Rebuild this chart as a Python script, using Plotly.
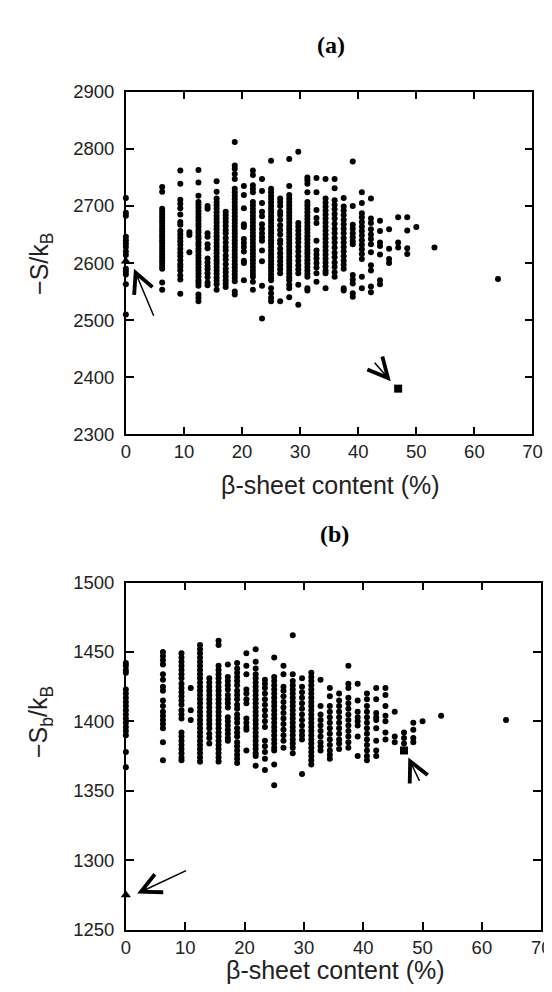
import plotly.graph_objects as go

# beta-sheet content (%) of each column of points (panel a and b share them)
a_beta = [0, 6.25, 9.375, 10.9375, 12.5, 14.0625, 15.625, 17.1875, 18.75, 20.3125,
          21.875, 23.4375, 25.0, 26.5625, 28.125, 29.6875, 31.25, 32.8125, 34.375,
          35.9375, 37.5, 39.0625, 40.625, 42.1875, 43.75, 45.3125, 46.875, 48.4375,
          50.0, 53.125, 64.0625]

# panel (a): -S/kB values in each column
a_vals = [
    [2714, 2688, 2683, 2646, 2640, 2634, 2628, 2620, 2614, 2590, 2585, 2580, 2563, 2510],
    [2733, 2725, 2695, 2690, 2685, 2680, 2675, 2670, 2665, 2660, 2655, 2650, 2645, 2640, 2635, 2630, 2625, 2620, 2615, 2610, 2605, 2600, 2595, 2590, 2566, 2553],
    [2762, 2739, 2711, 2704, 2696, 2685, 2672, 2667, 2656, 2650, 2644, 2638, 2632, 2625, 2618, 2612, 2605, 2598, 2593, 2587, 2578, 2571, 2546],
    [2654, 2649, 2619],
    [2763, 2741, 2718, 2707, 2702, 2697, 2691, 2686, 2680, 2675, 2669, 2664, 2658, 2653, 2647, 2642, 2636, 2631, 2625, 2620, 2614, 2609, 2603, 2598, 2592, 2587, 2581, 2576, 2570, 2565, 2560, 2545, 2539, 2533],
    [2700, 2695, 2652, 2646, 2633, 2626, 2608, 2601, 2595, 2589, 2582, 2575, 2566, 2561],
    [2743, 2725, 2713, 2707, 2701, 2695, 2689, 2683, 2677, 2671, 2665, 2659, 2653, 2647, 2641, 2635, 2629, 2623, 2617, 2611, 2605, 2599, 2593, 2587, 2581, 2575, 2569, 2563, 2553],
    [2690, 2684, 2678, 2672, 2665, 2658, 2652, 2644, 2636, 2628, 2622, 2613, 2606, 2598, 2590, 2584, 2577, 2570, 2564, 2558],
    [2812, 2771, 2765, 2756, 2747, 2730, 2724, 2718, 2712, 2706, 2700, 2694, 2688, 2682, 2676, 2670, 2664, 2658, 2652, 2646, 2640, 2634, 2628, 2622, 2616, 2610, 2604, 2598, 2592, 2586, 2580, 2574, 2568, 2550, 2545],
    [2735, 2719, 2696, 2668, 2663, 2642, 2635, 2628, 2620, 2604, 2600, 2570],
    [2762, 2754, 2736, 2730, 2724, 2707, 2701, 2695, 2689, 2683, 2677, 2671, 2665, 2659, 2653, 2647, 2641, 2635, 2629, 2623, 2617, 2611, 2605, 2599, 2593, 2587, 2581, 2576, 2567, 2553],
    [2747, 2726, 2705, 2690, 2682, 2668, 2660, 2652, 2645, 2639, 2622, 2603, 2560, 2503],
    [2779, 2730, 2724, 2718, 2712, 2706, 2700, 2694, 2688, 2682, 2676, 2670, 2664, 2658, 2652, 2646, 2640, 2634, 2628, 2622, 2616, 2610, 2604, 2598, 2592, 2586, 2580, 2574, 2570, 2556, 2547, 2539, 2533],
    [2713, 2707, 2700, 2690, 2684, 2676, 2666, 2658, 2650, 2640, 2634, 2625, 2617, 2610, 2603, 2596, 2589, 2582, 2533],
    [2782, 2735, 2719, 2713, 2707, 2701, 2695, 2689, 2683, 2677, 2671, 2665, 2659, 2653, 2647, 2641, 2635, 2629, 2623, 2617, 2611, 2605, 2599, 2593, 2587, 2581, 2575, 2570, 2562, 2556, 2540],
    [2795, 2670, 2664, 2657, 2650, 2643, 2636, 2628, 2620, 2612, 2604, 2596, 2589, 2582, 2562, 2527],
    [2750, 2745, 2739, 2724, 2707, 2701, 2695, 2689, 2683, 2677, 2671, 2665, 2659, 2653, 2647, 2641, 2635, 2629, 2623, 2617, 2611, 2605, 2599, 2593, 2587, 2581, 2576, 2556, 2552],
    [2749, 2724, 2693, 2679, 2670, 2639, 2622, 2615, 2608, 2600, 2592, 2582, 2567],
    [2747, 2713, 2706, 2699, 2692, 2685, 2678, 2671, 2664, 2657, 2650, 2643, 2636, 2629, 2622, 2615, 2608, 2601, 2594, 2587, 2582, 2556],
    [2747, 2731, 2710, 2702, 2694, 2686, 2678, 2669, 2660, 2652, 2644, 2636, 2627, 2618, 2610, 2601, 2593, 2584, 2576],
    [2714, 2699, 2692, 2684, 2676, 2668, 2660, 2652, 2644, 2636, 2628, 2620, 2612, 2604, 2597, 2590, 2556, 2552],
    [2778, 2700, 2667, 2660, 2652, 2645, 2638, 2633, 2579, 2571, 2564, 2547, 2541],
    [2724, 2705, 2687, 2680, 2672, 2664, 2656, 2648, 2640, 2632, 2624, 2616, 2607, 2576, 2556],
    [2713, 2678, 2670, 2659, 2650, 2642, 2633, 2619, 2596, 2587, 2559, 2549],
    [2674, 2656, 2636, 2630, 2615, 2570, 2563],
    [2659, 2625, 2607, 2600],
    [2680, 2636, 2627],
    [2680, 2657, 2626, 2616],
    [2663],
    [2627],
    [2572],
]

# panel (b): -Sb/kB values in each column
b_vals = [
    [1442, 1440, 1437, 1435, 1423, 1420, 1417, 1414, 1411, 1408, 1405, 1402, 1399, 1396, 1393, 1390, 1378, 1367],
    [1450, 1447, 1444, 1441, 1434, 1430, 1425, 1422, 1415, 1411, 1407, 1404, 1401, 1398, 1395, 1385, 1372],
    [1449, 1446, 1443, 1440, 1437, 1434, 1431, 1427, 1424, 1421, 1418, 1415, 1412, 1408, 1405, 1402, 1392, 1389, 1386, 1383, 1380, 1377, 1374, 1372],
    [1424, 1408, 1401],
    [1455, 1452, 1449, 1446, 1443, 1440, 1437, 1434, 1431, 1428, 1425, 1422, 1419, 1416, 1413, 1410, 1407, 1404, 1401, 1398, 1395, 1392, 1389, 1386, 1383, 1380, 1377, 1374, 1371],
    [1431, 1428, 1425, 1422, 1419, 1416, 1413, 1410, 1407, 1404, 1401, 1398, 1395, 1391, 1388, 1384],
    [1458, 1455, 1440, 1437, 1434, 1431, 1428, 1425, 1422, 1419, 1416, 1413, 1410, 1407, 1404, 1401, 1398, 1395, 1392, 1389, 1386, 1383, 1380, 1377, 1374, 1371],
    [1441, 1432, 1429, 1426, 1423, 1419, 1416, 1413, 1410, 1403, 1400, 1397, 1394, 1391, 1388, 1386],
    [1442, 1438, 1435, 1432, 1429, 1426, 1422, 1419, 1416, 1412, 1409, 1405, 1402, 1399, 1395, 1392, 1389, 1385, 1382, 1379, 1376, 1373, 1370],
    [1449, 1440, 1434, 1423, 1420, 1416, 1413, 1402, 1399, 1396, 1394, 1379],
    [1452, 1443, 1438, 1434, 1431, 1428, 1425, 1422, 1419, 1416, 1413, 1410, 1407, 1404, 1401, 1398, 1395, 1392, 1389, 1386, 1383, 1380, 1377, 1375, 1368],
    [1430, 1427, 1424, 1420, 1416, 1412, 1408, 1404, 1400, 1396, 1386, 1382, 1378, 1373, 1365],
    [1446, 1432, 1429, 1426, 1423, 1420, 1417, 1414, 1411, 1408, 1405, 1402, 1399, 1396, 1393, 1390, 1387, 1384, 1381, 1379, 1369, 1354],
    [1440, 1434, 1425, 1422, 1418, 1414, 1410, 1406, 1402, 1398, 1394, 1390, 1386, 1381],
    [1462, 1434, 1429, 1426, 1423, 1420, 1417, 1414, 1411, 1408, 1405, 1402, 1399, 1396, 1393, 1390, 1387, 1384, 1381, 1377],
    [1431, 1425, 1421, 1417, 1413, 1409, 1405, 1401, 1397, 1393, 1390, 1387, 1362],
    [1435, 1432, 1429, 1426, 1423, 1420, 1417, 1414, 1411, 1408, 1405, 1402, 1399, 1396, 1393, 1390, 1387, 1384, 1381, 1378, 1375, 1372, 1369],
    [1430, 1411, 1405, 1401, 1397, 1393, 1389, 1385, 1382, 1379],
    [1424, 1418, 1411, 1407, 1403, 1399, 1395, 1391, 1387, 1383, 1379, 1376, 1373],
    [1420, 1415, 1411, 1407, 1403, 1399, 1395, 1391, 1387, 1384, 1380],
    [1440, 1427, 1424, 1417, 1413, 1409, 1405, 1401, 1397, 1393, 1389, 1385, 1381],
    [1427, 1415, 1407, 1403, 1400, 1397, 1389, 1375],
    [1420, 1416, 1411, 1407, 1403, 1399, 1395, 1391, 1387, 1383, 1379, 1375, 1372],
    [1424, 1416, 1406, 1403, 1401, 1395, 1386, 1379, 1375],
    [1424, 1419, 1411, 1404, 1400, 1392, 1387],
    [1407, 1389, 1385],
    [1392, 1388, 1384],
    [1399, 1394, 1388, 1385],
    [1400],
    [1404],
    [1401],
]

# special structures: triangle (beta = 0) and square
tri_beta = [0]
tri_a = [2603]
tri_b = [1275]
sq_beta = [46.875]
sq_a = [2380]
sq_b = [1379]

x_ticks = [0, 10, 20, 30, 40, 50, 60, 70]
a_yticks = [2300, 2400, 2500, 2600, 2700, 2800, 2900]
b_yticks = [1250, 1300, 1350, 1400, 1450, 1500]


def flatten(cols, vals):
    xs, ys = [], []
    for c, v in zip(cols, vals):
        for y in v:
            xs.append(c)
            ys.append(y)
    return xs, ys


ax_x, ax_y = flatten(a_beta, a_vals)
bx_x, bx_y = flatten(a_beta, b_vals)

W, H = 552, 992
fig = go.Figure()

dot = dict(color="black", size=6, line=dict(width=0))
fig.add_trace(go.Scatter(x=ax_x, y=ax_y, mode="markers", marker=dot, xaxis="x", yaxis="y", cliponaxis=False))
fig.add_trace(go.Scatter(x=tri_beta, y=tri_a, mode="markers", marker=dict(color="black", size=9, symbol="triangle-up"), xaxis="x", yaxis="y", cliponaxis=False))
fig.add_trace(go.Scatter(x=sq_beta, y=sq_a, mode="markers", marker=dict(color="black", size=8, symbol="square"), xaxis="x", yaxis="y", cliponaxis=False))

fig.add_trace(go.Scatter(x=bx_x, y=bx_y, mode="markers", marker=dot, xaxis="x2", yaxis="y2", cliponaxis=False))
fig.add_trace(go.Scatter(x=tri_beta, y=tri_b, mode="markers", marker=dict(color="black", size=9, symbol="triangle-up"), xaxis="x2", yaxis="y2", cliponaxis=False))
fig.add_trace(go.Scatter(x=sq_beta, y=sq_b, mode="markers", marker=dict(color="black", size=8, symbol="square"), xaxis="x2", yaxis="y2", cliponaxis=False))

tickfont = dict(family="Liberation Sans, Arial, sans-serif", size=18.5, color="#222")
axis_common = dict(showline=True, linecolor="black", linewidth=1.5, mirror="ticks",
                   ticks="inside", ticklen=8, tickwidth=1.5, tickcolor="black",
                   showgrid=False, zeroline=False, tickfont=tickfont)

def px_x(p):
    return p / W

def px_y(p):
    return 1 - p / H

fig.update_layout(
    width=W, height=H, margin=dict(l=0, r=0, t=0, b=0),
    paper_bgcolor="white", plot_bgcolor="white", showlegend=False,
    xaxis=dict(domain=[px_x(116), px_x(534)], range=[0, 70], tickvals=x_ticks, anchor="y", **axis_common),
    yaxis=dict(domain=[px_y(424.3), px_y(74.3)], range=[2300, 2900], tickvals=a_yticks, anchor="x",
               ticklabelstandoff=6, **axis_common),
    xaxis2=dict(domain=[px_x(116), px_x(543)], range=[0, 70], tickvals=x_ticks, anchor="y2", **axis_common),
    yaxis2=dict(domain=[px_y(930.3), px_y(575.7)], range=[1250, 1500], tickvals=b_yticks, anchor="x2",
                ticklabelstandoff=6, **axis_common),
)

title_font = dict(family="Liberation Serif, Times New Roman, serif", size=24, color="black")
label_font = dict(family="Liberation Sans, Arial, sans-serif", size=25, color="#222")
c = dict(xref="paper", yref="paper", showarrow=False, xanchor="center", yanchor="middle")

ann = [
    dict(text="<b>(a)</b>", x=px_x(327), y=px_y(27), font=title_font, **c),
    dict(text="<b>(b)</b>", x=px_x(330), y=px_y(526), font=title_font, **c),
    dict(text="β-sheet content (%)", x=px_x(326), y=px_y(476), font=label_font, **c),
    dict(text="β-sheet content (%)", x=px_x(331), y=px_y(972), font=label_font, **c),
    dict(text="−S/k<sub>B</sub>", x=px_x(28), y=px_y(250), textangle=-90, font=label_font, **c),
    dict(text="−S<sub>b</sub>/k<sub>B</sub>", x=px_x(28), y=px_y(718), textangle=-90, font=label_font, **c),
]
arrow = dict(text="", showarrow=True, arrowhead=5, arrowsize=2.6, arrowwidth=1.5, arrowcolor="black", standoff=0)
ann.append(dict(x=1.4, y=2590, ax=4.9, ay=2505, xref="x", yref="y", axref="x", ayref="y", **arrow))
ann.append(dict(x=45.6, y=2393, ax=42.6, ay=2428, xref="x", yref="y", axref="x", ayref="y", **arrow))
ann.append(dict(x=1.9, y=1276, ax=10.4, ay=1293, xref="x2", yref="y2", axref="x2", ayref="y2", **arrow))
ann.append(dict(x=47.6, y=1374, ax=49.6, ay=1356, xref="x2", yref="y2", axref="x2", ayref="y2", **arrow))
fig.update_layout(annotations=ann)

fig.write_html("out.html")
